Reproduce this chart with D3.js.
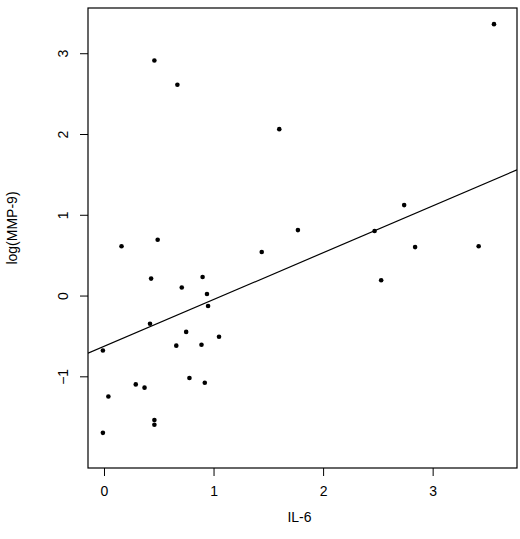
<!DOCTYPE html>
<html>
<head>
<meta charset="utf-8">
<script src="https://d3js.org/d3.v7.min.js"></script>
<style>
  body { margin: 0; background: #fff; }
  text { font-family: "Liberation Sans", Arial, sans-serif; fill: #000; }
</style>
</head>
<body>
<svg id="chart" width="520" height="539"></svg>
<script>
// data
const il6 = [0.46, 0.67, 3.56, 1.6, 0.16, 0.49, 0.43, 0.71, 0.9, 0.94, 0.95, 1.44, 1.77,
             2.47, 2.74, 2.53, 2.84, 3.42, 0.42, 0.75, 0.66, 0.89, 1.05, -0.01, 0.04,
             0.29, 0.37, 0.78, 0.92, 0.46, 0.46, -0.01];
const logMmp9 = [2.91, 2.61, 3.36, 2.06, 0.61, 0.69, 0.21, 0.1, 0.23, 0.02, -0.13, 0.54, 0.81,
                 0.8, 1.12, 0.19, 0.6, 0.61, -0.35, -0.45, -0.62, -0.61, -0.51, -0.68, -1.25,
                 -1.1, -1.14, -1.02, -1.08, -1.54, -1.6, -1.7];
const fitLine = { intercept: -0.63, slope: 0.58 };
const xTicks = [0, 1, 2, 3];
const yTicks = [-1, 0, 1, 2, 3];

const svg = d3.select('#chart');
const mLeft = 88, mRight = 517, mTop = 8, mBottom = 468;

const x = d3.scaleLinear().domain([-0.146, 3.77]).range([mLeft, mRight]);
const y = d3.scaleLinear().domain([-2.135, 3.56]).range([mBottom, mTop]);

svg.append('clipPath').attr('id', 'clip')
    .append('rect').attr('x', mLeft).attr('y', mTop)
    .attr('width', mRight - mLeft).attr('height', mBottom - mTop);

// regression line
const x0 = x.domain()[0], x1 = x.domain()[1];
svg.append('line')
    .attr('clip-path', 'url(#clip)')
    .attr('x1', x(x0)).attr('y1', y(fitLine.intercept + fitLine.slope * x0))
    .attr('x2', x(x1)).attr('y2', y(fitLine.intercept + fitLine.slope * x1))
    .attr('stroke', '#000').attr('stroke-width', 1.2);

// points
svg.append('g').selectAll('circle')
    .data(il6.map((v, i) => [v, logMmp9[i]]))
    .join('circle')
    .attr('cx', d => x(d[0]))
    .attr('cy', d => y(d[1]))
    .attr('r', 2.3)
    .attr('fill', '#000');

// frame
svg.append('rect')
    .attr('x', mLeft).attr('y', mTop)
    .attr('width', mRight - mLeft).attr('height', mBottom - mTop)
    .attr('fill', 'none').attr('stroke', '#000').attr('stroke-width', 1.2);

// axes
const xAxis = svg.append('g')
    .attr('transform', `translate(0,${mBottom})`)
    .call(d3.axisBottom(x).tickValues(xTicks).tickSize(8).tickPadding(10).tickFormat(d3.format('d')));
const yAxis = svg.append('g')
    .attr('transform', `translate(${mLeft},0)`)
    .call(d3.axisLeft(y).tickValues(yTicks).tickSize(8).tickPadding(10).tickFormat(d3.format('d')));
[xAxis, yAxis].forEach(g => {
    g.select('.domain').remove();
    g.selectAll('line').attr('stroke', '#000');
    g.selectAll('text').style('font-size', '14px').style('font-family', '"Liberation Sans", Arial, sans-serif');
});
yAxis.selectAll('.tick text')
    .attr('text-anchor', 'middle')
    .attr('x', 0).attr('dy', 0)
    .attr('transform', 'translate(-20,0) rotate(-90)');

svg.append('text')
    .attr('x', (mLeft + mRight) / 2 - 3).attr('y', 522)
    .attr('text-anchor', 'middle').style('font-size', '14px')
    .text('IL-6');
svg.append('text')
    .attr('transform', `translate(17,${(mTop + mBottom) / 2 - 10}) rotate(-90)`)
    .attr('text-anchor', 'middle').style('font-size', '14px')
    .text('log(MMP-9)');
</script>
</body>
</html>
